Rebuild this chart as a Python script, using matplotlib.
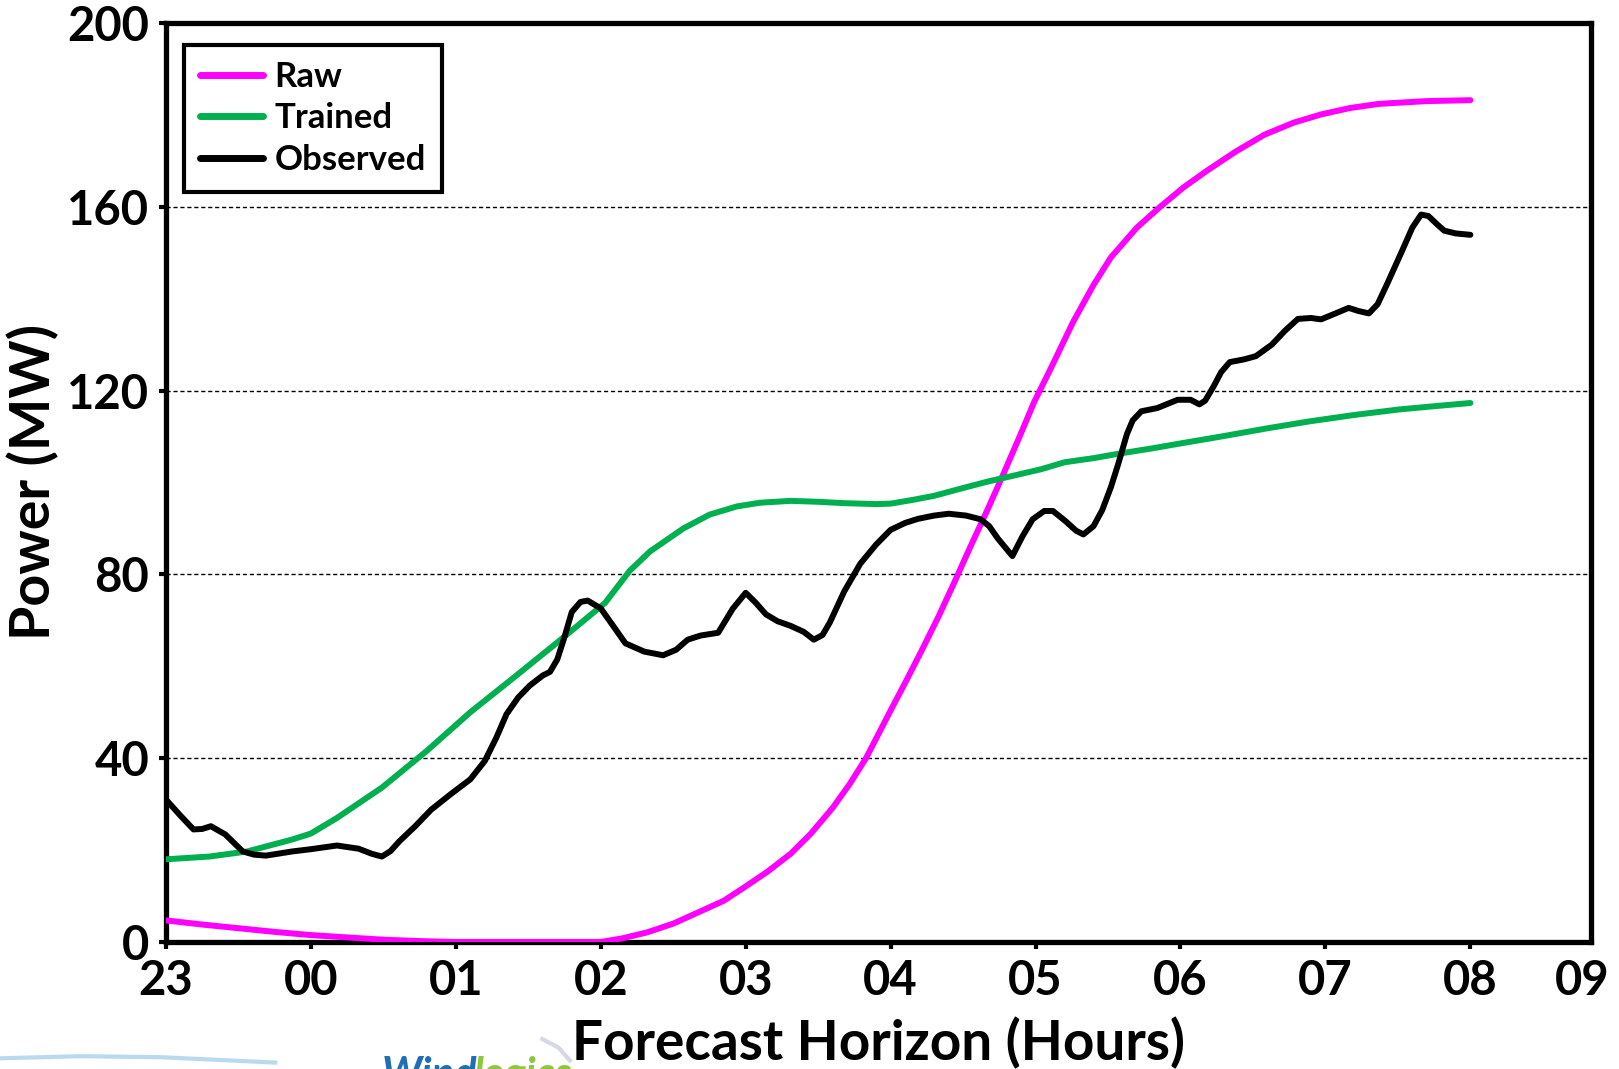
import matplotlib
matplotlib.use("Agg")
import matplotlib.pyplot as plt
from matplotlib.lines import Line2D

plt.rcParams['font.family'] = ['Lato', 'DejaVu Sans']

# ---- data (hours after 23:00) ----
obs_h = [0.00, 0.10, 0.19, 0.25, 0.31, 0.41, 0.53, 0.61, 0.69, 0.87, 1.00, 1.18, 1.33, 1.42, 1.49,
         1.55, 1.61, 1.72, 1.83, 1.97, 2.10, 2.20, 2.28, 2.35, 2.43, 2.51, 2.60, 2.65, 2.70, 2.75,
         2.80, 2.86, 2.91, 3.00, 3.09, 3.17, 3.30, 3.43, 3.52, 3.60, 3.69, 3.81, 3.91, 4.00, 4.07,
         4.14, 4.22, 4.31, 4.40, 4.47, 4.53, 4.58, 4.68, 4.79, 4.90, 5.00, 5.10, 5.19, 5.30, 5.40,
         5.52, 5.62, 5.68, 5.74, 5.84, 5.91, 5.98, 6.06, 6.12, 6.21, 6.28, 6.33, 6.40, 6.46, 6.52,
         6.57, 6.63, 6.67, 6.73, 6.84, 6.98, 7.07, 7.13, 7.17, 7.23, 7.28, 7.34, 7.44, 7.52, 7.63,
         7.72, 7.81, 7.90, 7.97, 8.07, 8.16, 8.23, 8.30, 8.36, 8.43, 8.53, 8.60, 8.66, 8.71, 8.77,
         8.82, 8.90, 9.00]
obs_v = [31.0, 27.5, 24.5, 24.6, 25.2, 23.4, 19.7, 19.0, 18.8, 19.7, 20.2, 21.0, 20.3, 19.2, 18.6,
         19.8, 21.9, 25.2, 28.8, 32.3, 35.4, 39.4, 44.5, 49.6, 53.2, 55.8, 58.0, 58.8, 61.5, 66.4,
         71.8, 74.0, 74.3, 72.6, 68.6, 65.0, 63.2, 62.4, 63.6, 65.8, 66.7, 67.3, 72.5, 76.0, 73.8,
         71.3, 69.8, 68.8, 67.5, 65.8, 66.8, 69.5, 76.3, 82.3, 86.5, 89.7, 91.2, 92.1, 92.8, 93.2,
         92.8, 92.0, 90.5, 87.8, 84.0, 88.3, 92.0, 93.8, 93.8, 91.5, 89.5, 88.7, 90.5, 94.0, 99.0,
         104.0, 110.5, 113.5, 115.5, 116.2, 118.0, 118.0, 117.0, 117.8, 121.0, 124.0, 126.2, 126.8, 127.5, 130.0,
         133.0, 135.6, 135.8, 135.5, 136.8, 138.0, 137.3, 136.8, 138.8, 143.5, 150.5, 155.5, 158.3, 158.0, 156.2,
         154.8, 154.2, 153.9]

trained_h = [0.00, 0.30, 0.56, 0.87, 1.00, 1.18, 1.49, 1.80, 2.10, 2.41, 2.72, 3.03, 3.20, 3.34,
             3.57, 3.75, 3.94, 4.10, 4.31, 4.50, 4.68, 4.90, 5.00, 5.15, 5.30, 5.50, 5.67, 5.85,
             6.04, 6.20, 6.40, 6.58, 6.80, 7.00, 7.28, 7.60, 7.89, 8.20, 8.51, 8.75, 9.00]
trained_v = [18.0, 18.6, 19.7, 22.3, 23.6, 27.0, 33.6, 41.6, 50.0, 57.8, 65.7, 73.8, 80.8, 85.0,
             90.0, 93.0, 94.8, 95.6, 96.0, 95.8, 95.5, 95.3, 95.4, 96.2, 97.1, 98.8, 100.2, 101.5,
             102.9, 104.4, 105.3, 106.3, 107.4, 108.5, 110.0, 111.8, 113.3, 114.7, 115.9, 116.6, 117.3]

raw_h = [0.00, 0.25, 0.50, 0.75, 1.00, 1.25, 1.50, 1.75, 2.00, 2.50, 3.00, 3.15, 3.32, 3.50, 3.69,
         3.85, 4.00, 4.15, 4.31, 4.45, 4.60, 4.72, 4.83, 4.92, 5.00, 5.11, 5.22, 5.33, 5.44, 5.55,
         5.67, 5.78, 5.89, 5.99, 6.10, 6.26, 6.40, 6.52, 6.70, 6.86, 7.02, 7.18, 7.38, 7.58, 7.78,
         7.97, 8.17, 8.37, 8.70, 9.00]
raw_v = [4.7, 3.8, 3.0, 2.2, 1.5, 1.0, 0.5, 0.2, 0.0, 0.0, 0.0, 0.8, 2.1, 4.0, 6.7,
         9.0, 12.1, 15.3, 19.2, 23.6, 29.2, 34.5, 40.0, 45.5, 50.4, 57.0, 63.8, 70.8, 78.3, 86.0,
         94.2, 102.0, 110.0, 117.5, 124.5, 135.0, 143.0, 149.0, 155.5, 160.0, 164.2, 167.8, 172.0, 175.7, 178.3,
         180.1, 181.5, 182.4, 183.0, 183.2]

x_ticks = [0, 1, 2, 3, 4, 5, 6, 7, 8, 9]
x_labels = ['23', '00', '01', '02', '03', '04', '05', '06', '07', '08']
x_edge_label = '09'
y_ticks = [0, 40, 80, 120, 160, 200]

fig = plt.figure(figsize=(16.19, 10.69), dpi=100)
ax = fig.add_axes([0.1025, 0.1188, 0.880, 0.8597])

lw = 4.3
ax.plot(raw_h, raw_v, color='#FF00FF', lw=lw, label='Raw', solid_capstyle='round', solid_joinstyle='round', zorder=3)
ax.plot(trained_h, trained_v, color='#00B050', lw=lw, label='Trained', solid_capstyle='round', solid_joinstyle='round', zorder=3)
ax.plot(obs_h, obs_v, color='black', lw=lw, label='Observed', solid_capstyle='round', solid_joinstyle='round', zorder=4)

ax.set_xlim(0, 9.83)
ax.set_ylim(0, 200)
ax.set_xticks(x_ticks)
ax.set_xticklabels(x_labels)
ax.set_xticks([9.77], minor=True)
ax.set_xticklabels([x_edge_label], minor=True)
ax.set_yticks(y_ticks)

for g in [40, 80, 120, 160]:
    ax.axhline(g, color='black', lw=1.0, ls=(0, (3, 2)), zorder=1)

for sp in ax.spines.values():
    sp.set_linewidth(3.8)
    sp.set_color('black')

ax.tick_params(axis='both', which='major', direction='out', length=5, width=3,
               labelsize=34, pad=7)
ax.tick_params(axis='x', which='minor', length=0, labelsize=34, pad=12)
for t in ax.get_xticklabels() + ax.get_yticklabels() + ax.get_xticklabels(minor=True):
    t.set_fontweight('bold')

ax.set_xlabel('Forecast Horizon (Hours)', fontsize=39.5, fontweight='bold', labelpad=10)
ax.set_ylabel('Power (MW)', fontsize=40, fontweight='bold', labelpad=6)

leg = ax.legend(loc='upper left', bbox_to_anchor=(0.013, 0.976), borderaxespad=0,
                fontsize=25, frameon=True, fancybox=False, edgecolor='black', framealpha=1,
                handlelength=1.8, handletextpad=0.35, labelspacing=0.28,
                borderpad=0.45)
leg.get_frame().set_linewidth(3.0)
for t in leg.get_texts():
    t.set_fontweight('bold')
for l in leg.get_lines():
    l.set_linewidth(5)

# partial logo at the bottom edge (mostly cropped in the reference)
fig.add_artist(Line2D([0.0, 0.05, 0.1, 0.17], [0.010, 0.012, 0.011, 0.006],
                      transform=fig.transFigure, color='#B9D9EE', lw=3))
fig.add_artist(Line2D([0.335, 0.345, 0.352], [0.028, 0.020, 0.008],
                      transform=fig.transFigure, color='#D6D8E8', lw=3))
fig.text(0.236, 1 - 1056 / 1069, 'Wind', color='#1F6FB2', fontsize=30, fontweight='bold',
         style='italic', ha='left', va='top')
fig.text(0.292, 1 - 1056 / 1069, 'logics', color='#8DC63F', fontsize=30, fontweight='bold',
         style='italic', ha='left', va='top')

fig.savefig('out.png', dpi=100)
